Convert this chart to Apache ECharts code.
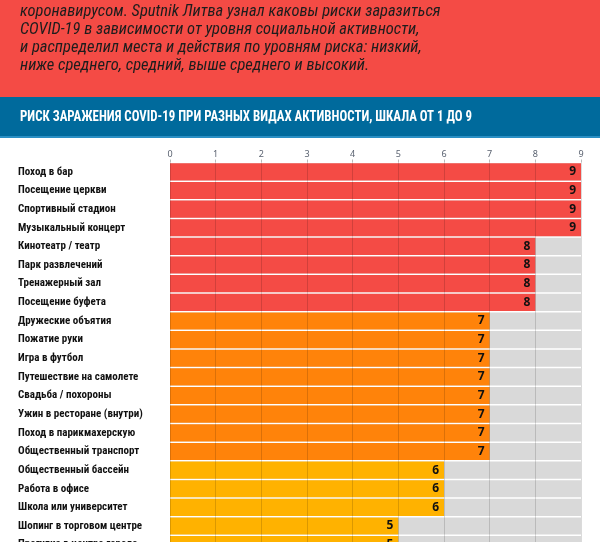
<!DOCTYPE html>
<html>
<head>
<meta charset="utf-8">
<script src="https://cdn.jsdelivr.net/npm/echarts@6/dist/echarts.min.js"></script>
<style>
html,body{margin:0;padding:0;background:#fff;overflow:hidden;width:600px;height:542px;}
#c{width:600px;height:554px;}
</style>
</head>
<body>
<div id="c"></div>
<script>
const introLines = [
  'коронавирусом. Sputnik Литва узнал каковы риски заразиться',
  'COVID-19 в зависимости от уровня социальной активности,',
  'и распределил места и действия по уровням риска: низкий,',
  'ниже среднего, средний, выше среднего и высокий.'
];
const chartTitle = 'РИСК ЗАРАЖЕНИЯ COVID-19 ПРИ РАЗНЫХ ВИДАХ АКТИВНОСТИ, ШКАЛА ОТ 1 ДО 9';
const activities = [
  'Поход в бар',
  'Посещение церкви',
  'Спортивный стадион',
  'Музыкальный концерт',
  'Кинотеатр / театр',
  'Парк развлечений',
  'Тренажерный зал',
  'Посещение буфета',
  'Дружеские объятия',
  'Пожатие руки',
  'Игра в футбол',
  'Путешествие на самолете',
  'Свадьба / похороны',
  'Ужин в ресторане (внутри)',
  'Поход в парикмахерскую',
  'Общественный транспорт',
  'Общественный бассейн',
  'Работа в офисе',
  'Школа или университет',
  'Шопинг в торговом центре',
  'Прогулка в центре города'
];
const riskValues = [9, 9, 9, 9, 8, 8, 8, 8, 7, 7, 7, 7, 7, 7, 7, 7, 6, 6, 6, 5, 5];
const axisTicks = [0, 1, 2, 3, 4, 5, 6, 7, 8, 9];

const levelColor = function (v) {
  if (v >= 8) return '#F44B45';
  if (v === 7) return '#FF830A';
  return '#FFB200';
};

const chart = echarts.init(document.getElementById('c'));
const introFont = "italic 16.5px 'Roboto Condensed',sans-serif";

const graphics = [
  { type: 'rect', shape: { x: 0, y: 0, width: 600, height: 97 }, style: { fill: '#F44B45' }, z: -10, silent: true },
  { type: 'rect', shape: { x: 0, y: 97, width: 600, height: 41 }, style: { fill: '#006A9C' }, z: -10, silent: true },
  { type: 'rect', shape: { x: 0, y: 136, width: 600, height: 2 }, style: { fill: '#2A8FC4' }, z: -9, silent: true },
  {
    type: 'text', x: 20, y: 110, scaleX: 0.92, z: 10,
    style: {
      text: chartTitle, fill: '#ffffff',
      font: "bold 14px 'Roboto Condensed',sans-serif",
      textVerticalAlign: 'top'
    }
  }
];
introLines.forEach(function (line, i) {
  graphics.push({
    type: 'text', left: 20, top: 3 + i * 18, z: 10,
    style: { text: line, fill: '#1d1d1d', font: introFont }
  });
});

chart.setOption({
  animation: false,
  backgroundColor: '#ffffff',
  graphic: graphics,
  grid: { left: 170, right: 19, top: 162.5, bottom: 0, containLabel: false },
  xAxis: {
    type: 'value', position: 'top', min: 0, max: 9, interval: 1, z: 5,
    axisLine: { show: false },
    axisTick: { show: true, length: 3, lineStyle: { color: '#bbbbbb' } },
    axisLabel: {
      margin: 4, color: '#5a6270', fontSize: 9,
      fontFamily: "'Noto Sans', sans-serif",
      formatter: function (v) { return axisTicks.indexOf(v) >= 0 ? String(v) : ''; }
    },
    splitLine: { show: true, lineStyle: { color: 'rgba(0,0,0,0.14)', width: 1 } }
  },
  yAxis: {
    type: 'category', inverse: true, data: activities,
    axisLine: { show: false }, axisTick: { show: false },
    axisLabel: {
      align: 'left', margin: 152, color: '#111111', fontSize: 11, fontWeight: 'bold',
      fontFamily: "'Roboto Condensed', sans-serif"
    }
  },
  series: [{
    type: 'bar',
    data: riskValues.map(function (v) { return { value: v, itemStyle: { color: levelColor(v) } }; }),
    barCategoryGap: '8%',
    showBackground: true,
    backgroundStyle: { color: '#D9D9D9' },
    label: {
      show: true, position: 'insideRight', distance: 5,
      color: '#111111', fontSize: 12, fontWeight: 'bold',
      fontFamily: "'Noto Sans', sans-serif"
    }
  }]
});
</script>
</body>
</html>
